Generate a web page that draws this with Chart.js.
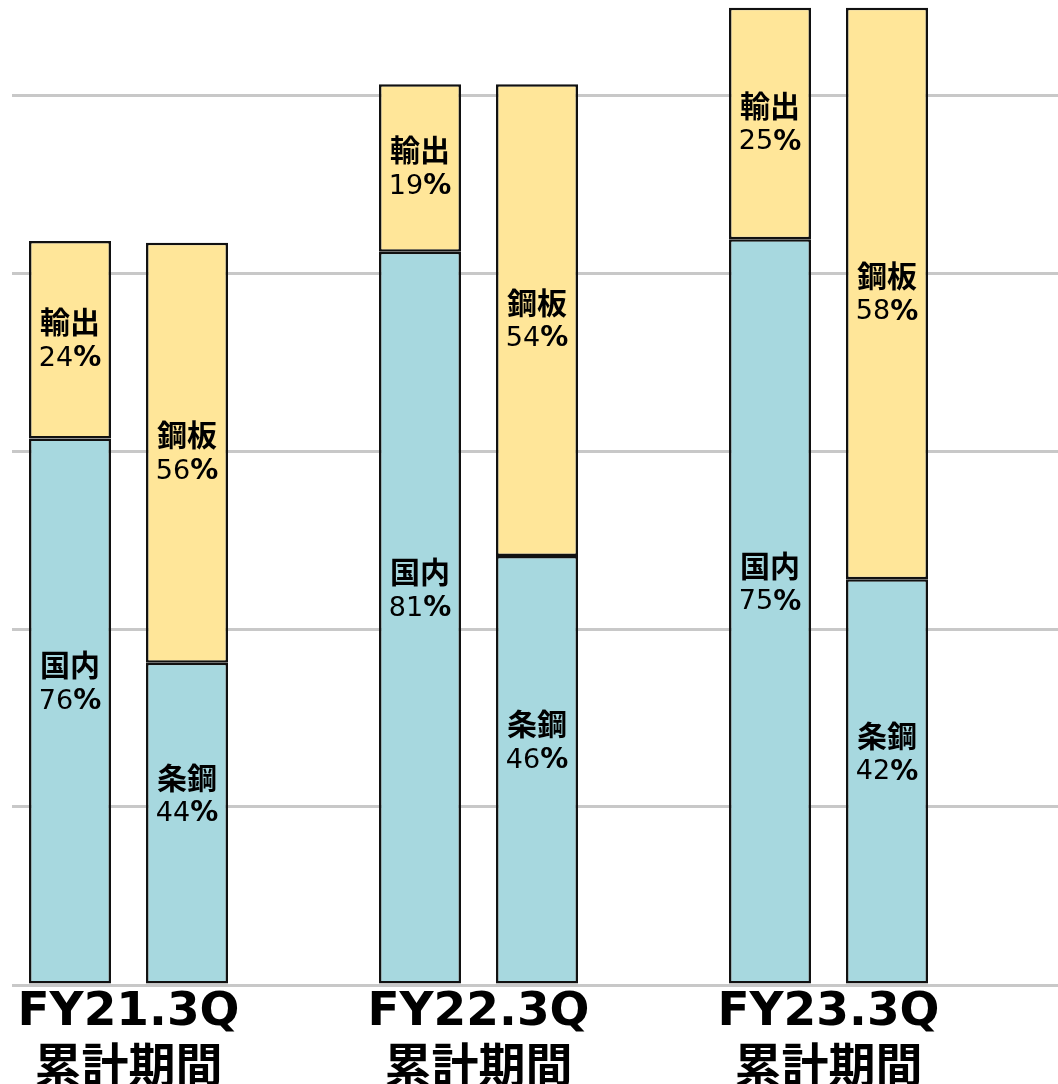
<!DOCTYPE html>
<html>
<head>
<meta charset="utf-8">
<script src="https://cdn.jsdelivr.net/npm/chart.js@4"></script>
<style>
  html, body { margin: 0; padding: 0; background: #fff; }
  #wrap { width: 1058px; height: 1084px; }
</style>
</head>
<body>
<div id="wrap"><canvas id="chart"></canvas></div>
<script>
// volumes (gridline step = 100)
const periods = ['FY21.3Q', 'FY22.3Q', 'FY23.3Q'];
const periodSub = '累計期間';
const domestic = [307, 412, 419];
const exportVol = [111, 94, 130];
const barSteel = [181, 241, 228];
const sheetSteel = [236, 265, 321];

// shares printed inside the bars
const domesticPct = [76, 81, 75];
const exportPct = [24, 19, 25];
const barSteelPct = [44, 46, 42];
const sheetSteelPct = [56, 54, 58];

const BLUE = '#a7d8df';
const YELLOW = '#ffe699';

const toPoints = (arr) => arr.map((v, i) => ({ x: i, y: v }));

const segLabels = {
  id: 'segLabels',
  afterDatasetsDraw(chart) {
    const ctx = chart.ctx;
    ctx.save();
    ctx.fillStyle = '#000';
    ctx.textBaseline = 'middle';
    chart.data.datasets.forEach((ds, di) => {
      const meta = chart.getDatasetMeta(di);
      meta.data.forEach((bar, i) => {
        const cx = bar.x;
        const cy = (bar.y + bar.base) / 2 + (ds.labelShift || 0);
        // name line
        ctx.font = 'bold 30px "Noto Sans CJK JP"';
        ctx.textAlign = 'center';
        ctx.fillText(ds.label, cx, cy - 18);
        // percent line: digits regular, % bold
        const num = String(ds.pct[i]);
        ctx.font = '27px "DejaVu Sans"';
        const wNum = ctx.measureText(num).width;
        ctx.font = 'bold 28px "DejaVu Sans"';
        const wPct = ctx.measureText('%').width;
        const start = cx - (wNum + wPct) / 2;
        ctx.textAlign = 'left';
        ctx.font = '27px "DejaVu Sans"';
        ctx.fillText(num, start, cy + 19);
        ctx.font = 'bold 28px "DejaVu Sans"';
        ctx.fillText('%', start + wNum, cy + 19);
      });
    });
    ctx.restore();
  }
};

const barStyle = {
  borderColor: '#111',
  borderWidth: 2.5,
  borderSkipped: false,
  categoryPercentage: 0.6686,
  barPercentage: 0.7009
};

new Chart(document.getElementById('chart'), {
  type: 'bar',
  data: {
    datasets: [
      { label: '国内', data: toPoints(domestic), pct: domesticPct, stack: 'region', backgroundColor: BLUE, labelShift: -28, ...barStyle },
      { label: '輸出', data: toPoints(exportVol), pct: exportPct, stack: 'region', backgroundColor: YELLOW, ...barStyle },
      { label: '条鋼', data: toPoints(barSteel), pct: barSteelPct, stack: 'product', backgroundColor: BLUE, labelShift: -28, ...barStyle },
      { label: '鋼板', data: toPoints(sheetSteel), pct: sheetSteelPct, stack: 'product', backgroundColor: YELLOW, ...barStyle }
    ]
  },
  options: {
    responsive: true,
    maintainAspectRatio: false,
    animation: false,
    layout: { padding: { left: 12, top: 6, right: 0, bottom: 0 } },
    plugins: {
      legend: { display: false },
      tooltip: { enabled: false }
    },
    scales: {
      x: {
        type: 'linear',
        offset: false,
        min: -0.3329,
        max: 2.6557,
        bounds: 'data',
        grid: { display: false, drawTicks: false, offset: false },
        border: { display: false },
        afterBuildTicks: (scale) => {
          scale.ticks = periods.map((p, i) => ({ value: i }));
        },
        afterFit: (scale) => { scale.height = 99; scale.paddingLeft = 0; scale.paddingRight = 0; },
        ticks: {
          autoSkip: false,
          maxRotation: 0,
          padding: 0,
          color: '#000',
          font: { family: '"DejaVu Sans", "Noto Sans CJK JP"', size: 47, weight: 'bold', lineHeight: 1.2 },
          callback: (value, index) => [periods[index], periodSub]
        }
      },
      y: {
        stacked: true,
        min: 0,
        max: 550,
        grid: { color: '#c8c8c8', lineWidth: 3, drawTicks: false },
        border: { display: false },
        ticks: { display: false, stepSize: 100, includeBounds: false }
      }
    }
  },
  plugins: [segLabels]
});
</script>
</body>
</html>
